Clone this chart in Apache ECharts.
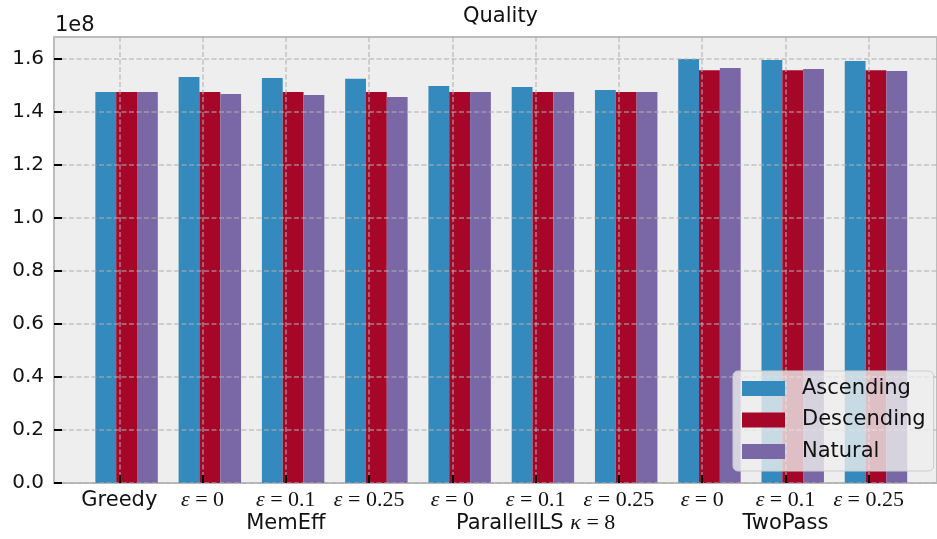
<!DOCTYPE html>
<html>
<head>
<meta charset="utf-8">
<script src="https://cdn.jsdelivr.net/npm/echarts@6/dist/echarts.min.js"></script>
<style>
  html, body { margin: 0; padding: 0; background: #ffffff; }
  #chart { width: 937px; height: 539px; }
</style>
</head>
<body>
<div id="chart"></div>
<script>
// ---- data (values in units of 1e8) ----
const subLabels = ['Greedy', 'ε=0', 'ε=0.1', 'ε=0.25', 'ε=0', 'ε=0.1', 'ε=0.25', 'ε=0', 'ε=0.1', 'ε=0.25'];
const groupLabels = ['', '', 'MemEff', '', '', 'ParallelILS κ=8', '', '', 'TwoPass', ''];
const seriesNames = ['Ascending', 'Descending', 'Natural'];
const ascending  = [1.4755, 1.532, 1.528, 1.525, 1.4985, 1.494, 1.483, 1.600, 1.596, 1.592];
const descending = [1.4755, 1.4755, 1.4755, 1.4755, 1.4755, 1.4755, 1.4755, 1.558, 1.558, 1.558];
const natural    = [1.4755, 1.4675, 1.464, 1.457, 1.4755, 1.4755, 1.4755, 1.566, 1.562, 1.555];
const yTicks = [0, 0.2, 0.4, 0.6, 0.8, 1.0, 1.2, 1.4, 1.6];
const yMax = 1.683;
const yScaleLabel = '1e8';
const titleText = 'Quality';

const colors = ['#348ABD', '#A60628', '#7A68A6'];
const offsets = [-0.1625, 0.0875, 0.3375];
const barW = 0.25;
const values = [ascending, descending, natural];

const gridLineStyle = { color: 'rgba(175,175,175,0.7)', width: 1.5, type: [5, 2.5] };
const sans = 'DejaVu Sans';
const serif = 'Liberation Serif';

function firstLine(s) {
  if (s.startsWith('ε')) {
    return '{e|ε}{m| = ' + s.slice(2) + '}';
  }
  return '{s|' + s + '}';
}
function secondLine(s) {
  if (!s) return '';
  const k = s.indexOf('κ');
  if (k >= 0) {
    return '{g|' + s.slice(0, k) + '}{ge|κ}{gm| = ' + s.slice(k + 2) + '}';
  }
  return '{g|' + s + '}';
}

const chart = echarts.init(document.getElementById('chart'), null, { renderer: 'canvas' });

const series = seriesNames.map((name, si) => ({
  name: name,
  type: 'custom',
  xAxisIndex: 1,
  yAxisIndex: 1,
  clip: false,
  z: 2,
  itemStyle: { color: colors[si] },
  data: values[si].map((v, i) => [i, v]),
  encode: { x: 0, y: 1 },
  renderItem: function (params, api) {
    const x = api.value(0);
    const y = api.value(1);
    const p0 = api.coord([x + offsets[si] - barW / 2, y]);
    const p1 = api.coord([x + offsets[si] + barW / 2, 0]);
    return {
      type: 'rect',
      shape: { x: p0[0], y: p0[1], width: p1[0] - p0[0], height: p1[1] - p0[1] },
      style: { fill: colors[si] }
    };
  }
}));

const option = {
  animation: false,
  backgroundColor: '#ffffff',
  title: {
    text: titleText,
    left: 463,
    top: 6,
    padding: 0,
    textStyle: { fontFamily: sans, fontSize: 21, fontWeight: 'normal', color: '#111', lineHeight: 21 }
  },
  legend: {
    orient: 'vertical',
    left: 733,
    top: 371,
    z: 10,
    padding: [7, 8, 9, 9],
    itemWidth: 43,
    itemHeight: 15,
    itemGap: 10.5,
    icon: 'rect',
    backgroundColor: 'rgba(238,238,238,0.8)',
    borderColor: '#cccccc',
    borderWidth: 1,
    borderRadius: 5,
    textStyle: { fontFamily: sans, fontSize: 21, color: '#111', lineHeight: 21, padding: [0, 0, 0, 12] },
    data: seriesNames
  },
  grid: [
    { left: 54, right: -2, top: 37, bottom: 56, show: true, backgroundColor: '#eeeeee', borderColor: '#bcbcbc', borderWidth: 2, containLabel: false },
    { left: 119.3, right: 68.3, top: 37, bottom: 56, show: false, containLabel: false }
  ],
  xAxis: [
    { type: 'value', gridIndex: 0, min: 0, max: 1, show: false },
    {
      type: 'value', gridIndex: 1, min: 0, max: 9, interval: 1, z: 5,
      axisLine: { show: false },
      axisTick: { show: true, inside: true, length: 8, lineStyle: { color: '#000', width: 2 } },
      splitLine: { show: true, lineStyle: gridLineStyle },
      axisLabel: {
        margin: 6,
        color: '#111',
        verticalAlign: 'top',
        align: 'center',
        formatter: function (v) {
          const i = Math.round(v);
          const a = firstLine(subLabels[i]);
          const b = secondLine(groupLabels[i]);
          return b ? a + '\n' + b : a;
        },
        rich: {
          s: { fontFamily: sans, fontSize: 21, lineHeight: 23, color: '#111' },
          e: { fontFamily: serif, fontStyle: 'italic', fontSize: 22, lineHeight: 23, color: '#111' },
          m: { fontFamily: serif, fontSize: 22, lineHeight: 23, color: '#111' },
          g: { fontFamily: sans, fontSize: 21, lineHeight: 23, color: '#111' },
          ge: { fontFamily: serif, fontStyle: 'italic', fontSize: 22, lineHeight: 23, color: '#111' },
          gm: { fontFamily: serif, fontSize: 22, lineHeight: 23, color: '#111' }
        }
      }
    }
  ],
  yAxis: [
    {
      type: 'value', gridIndex: 0, min: 0, max: yMax, interval: 0.2, z: 5,
      name: yScaleLabel,
      nameLocation: 'end',
      nameGap: 1,
      nameTextStyle: { fontFamily: sans, fontSize: 21, color: '#111', align: 'left', verticalAlign: 'bottom', lineHeight: 21, padding: [0, 0, 0, 1] },
      axisLine: { show: false },
      axisTick: { show: true, inside: true, length: 8, lineStyle: { color: '#000', width: 2 }, customValues: yTicks },
      splitLine: { show: true, lineStyle: gridLineStyle },
      axisLabel: {
        margin: 10,
        fontFamily: sans,
        fontSize: 20,
        color: '#111',
        customValues: yTicks,
        formatter: function (v) {
          const r = Math.round(v * 5) / 5;
          if (Math.abs(r - v) > 1e-6 || v > 1.65) return '';
          return v.toFixed(1);
        }
      }
    },
    { type: 'value', gridIndex: 1, min: 0, max: yMax, show: false }
  ],
  series: series
};

chart.setOption(option);
</script>
</body>
</html>
